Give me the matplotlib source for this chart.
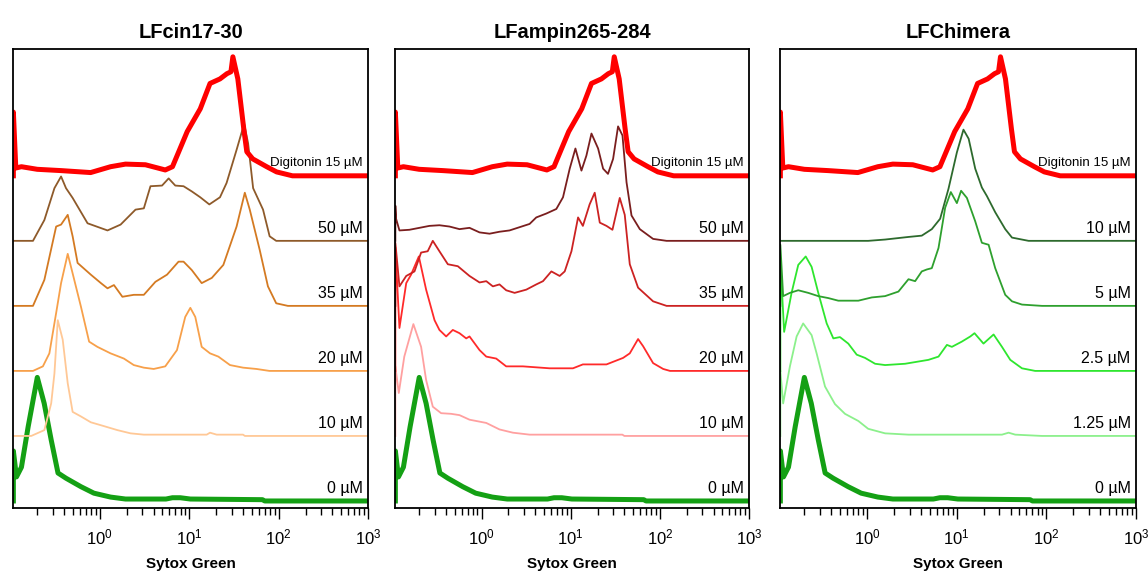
import numpy as np
import matplotlib
matplotlib.use('Agg')
import matplotlib.pyplot as plt
from matplotlib.ticker import LogLocator, NullFormatter

plt.rcParams['font.family'] = ['Liberation Sans', 'DejaVu Sans']

# x values are Sytox Green intensity, h values are histogram heights (1 unit = one row of the stack)

# controls, the same in every panel
dig_x = [0.108, 0.108, 0.115, 0.133, 0.2, 0.37, 0.79, 1.32, 1.94, 3.24, 5.4, 6.5, 9.5, 13.3, 17.1, 22.1,
         26.4, 29.3, 30.8, 35, 40.8, 44.1, 51.4, 73.6, 95, 143, 1000]
dig_h = [0, 0.98, 0.12, 0.14, 0.1, 0.08, 0.05, 0.14, 0.18, 0.17, 0.09, 0.14, 0.68, 1.03, 1.42, 1.49,
         1.57, 1.6, 1.83, 1.49, 0.72, 0.37, 0.26, 0.14, 0.06, 0, 0]

zero_x = [0.108, 0.108, 0.117, 0.133, 0.158, 0.2, 0.239, 0.286, 0.341, 0.419, 0.615, 0.86, 1.32, 1.94,
          5.5, 6.5, 7.94, 10.3, 66, 70, 1000]
zero_h = [0, 0.77, 0.37, 0.52, 1.14, 1.9, 1.5, 0.94, 0.43, 0.35, 0.22, 0.12, 0.06, 0.03,
          0.03, 0.05, 0.05, 0.03, 0.02, 0, 0]

# LFcin17-30
cin10_x = [0.108, 0.171, 0.24, 0.286, 0.311, 0.339, 0.385, 0.438, 0.497, 0.615, 0.794, 1.12, 1.57, 2.21,
           3.11, 15.7, 17.1, 20.3, 40, 42, 1000]
cin10_h = [0, 0, 0.09, 0.5, 0.96, 1.78, 1.48, 0.81, 0.37, 0.3, 0.21, 0.15, 0.09, 0.04,
           0.02, 0.02, 0.05, 0.02, 0.02, 0, 0]

cin20_x = [0.108, 0.179, 0.231, 0.273, 0.325, 0.369, 0.438, 0.497, 0.615, 0.76, 0.94, 1.32, 1.86, 2.4,
           3.11, 4.01, 5.4, 7.3, 9.03, 10.3, 11.7, 13.8, 17.1, 21.2, 28.6, 40.1, 56.5, 79, 1000]
cin20_h = [0, 0, 0.07, 0.27, 0.89, 1.35, 1.8, 1.5, 0.99, 0.45, 0.37, 0.27, 0.19, 0.09,
           0.05, 0.03, 0.07, 0.32, 0.83, 0.97, 0.83, 0.37, 0.27, 0.22, 0.09, 0.05, 0.03, 0, 0]

cin35_x = [0.108, 0.179, 0.24, 0.325, 0.369, 0.438, 0.497, 0.565, 0.794, 1.03, 1.22, 1.44, 1.79, 2.4,
           3.11, 4.19, 5.65, 7.6, 8.65, 10.7, 13.8, 17.9, 24.1, 33.9, 41.9, 47.6, 61.5, 76, 94, 127, 1000]
cin35_h = [0, 0, 0.4, 1.22, 1.25, 1.4, 1.07, 0.66, 0.48, 0.35, 0.27, 0.32, 0.14, 0.17,
           0.17, 0.37, 0.48, 0.68, 0.68, 0.55, 0.35, 0.43, 0.63, 1.22, 1.74, 1.48, 0.86, 0.3, 0.04, 0, 0]

cin50_x = [0.108, 0.179, 0.24, 0.311, 0.369, 0.419, 0.497, 0.73, 1.22, 1.71, 2.51, 3.11, 3.69, 4.97,
           5.89, 6.99, 8.65, 10.7, 13.3, 16.8, 22.1, 26.2, 33.9, 41.2, 45.6, 51.9, 67, 79.4, 94, 1000]
cin50_h = [0, 0, 0.32, 0.81, 0.99, 0.81, 0.66, 0.27, 0.16, 0.25, 0.48, 0.5, 0.84, 0.85,
           0.96, 0.85, 0.84, 0.76, 0.67, 0.56, 0.67, 0.89, 1.4, 1.8, 1.5, 0.81, 0.48, 0.07, 0, 0]

# LFampin265-284
amp10_x = [0.108, 0.108, 0.118, 0.136, 0.172, 0.21, 0.239, 0.284, 0.352, 0.457, 0.566, 0.733, 1.13, 1.59,
           2.25, 3.46, 16.3, 38, 40, 1000]
amp10_h = [0, 1.07, 0.66, 1.22, 1.72, 1.37, 0.86, 0.45, 0.35, 0.34, 0.32, 0.25, 0.2, 0.1,
           0.05, 0.02, 0.02, 0.02, 0, 0]

amp20_x = [0.108, 0.108, 0.12, 0.143, 0.162, 0.198, 0.239, 0.297, 0.337, 0.401, 0.476, 0.566, 0.673, 0.733,
           0.95, 1.13, 1.46, 1.89, 2.91, 5.81, 10.6, 13.7, 25.2, 38.7, 46, 57, 64.9, 84, 109, 130, 1000]
amp20_h = [0, 1.9, 0.66, 1.35, 1.48, 1.76, 1.25, 0.78, 0.63, 0.53, 0.63, 0.58, 0.5, 0.53,
           0.32, 0.22, 0.19, 0.07, 0.07, 0.04, 0.04, 0.1, 0.1, 0.2, 0.27, 0.49, 0.38, 0.12, 0.03, 0, 0]

amp35_x = [0.108, 0.108, 0.12, 0.143, 0.177, 0.21, 0.249, 0.284, 0.337, 0.419, 0.542, 0.733, 0.95, 1.13,
           1.34, 1.59, 1.89, 2.35, 3.18, 4.11, 4.89, 6.07, 7.52, 8.57, 10.2, 12.1, 13.7, 16.3, 18.6,
           21.2, 25.2, 29.4, 35.5, 40.4, 46, 57, 84, 119, 1000]
amp35_h = [0, 0.97, 0.3, 0.46, 0.53, 0.82, 0.84, 1.0, 0.84, 0.64, 0.61, 0.46, 0.36, 0.38,
           0.3, 0.33, 0.24, 0.2, 0.25, 0.33, 0.38, 0.53, 0.46, 0.53, 0.84, 1.36, 1.23, 1.56, 1.74,
           1.28, 1.23, 1.17, 1.66, 1.4, 0.64, 0.28, 0.07, 0, 0]

amp50_x = [0.108, 0.108, 0.11, 0.12, 0.155, 0.201, 0.26, 0.337, 0.437, 0.566, 0.733, 0.95, 1.23, 1.59,
           2.06, 2.67, 3.46, 4.11, 5.33, 6.9, 8.2, 9.75, 11.3, 13.2, 15, 17.1, 20.3, 23.1, 26.2,
           29.9, 34, 38.1, 42.3, 48.1, 59.6, 84, 119, 1000]
amp50_h = [0, 0.54, 0.34, 0.16, 0.17, 0.2, 0.23, 0.24, 0.22, 0.18, 0.2, 0.13, 0.11, 0.14,
           0.16, 0.21, 0.26, 0.36, 0.42, 0.49, 0.67, 1.11, 1.42, 1.08, 1.31, 1.65, 1.42, 1.11, 1.03,
           1.26, 1.76, 1.62, 0.9, 0.39, 0.18, 0.03, 0, 0]

# LFChimera
chi125_x = [0.108, 0.108, 0.116, 0.138, 0.164, 0.194, 0.241, 0.274, 0.34, 0.439, 0.568, 0.8, 1.03, 1.59,
            2.9, 32, 37.9, 45, 89.5, 1000]
chi125_h = [0, 1.0, 0.5, 1.07, 1.53, 1.73, 1.55, 1.27, 0.76, 0.49, 0.34, 0.23, 0.11, 0.04,
            0.02, 0.02, 0.05, 0.02, 0, 0]

chi25_x = [0.108, 0.108, 0.119, 0.144, 0.171, 0.207, 0.241, 0.286, 0.355, 0.421, 0.499, 0.618, 0.767, 0.95,
           1.23, 1.59, 2.66, 4.84, 6.27, 7.78, 8.84, 11.4, 14.2, 15.8, 19.9, 25.8, 32, 39.6, 53.5, 75, 1000]
chi25_h = [0, 1.7, 0.6, 1.2, 1.63, 1.76, 1.6, 1.2, 0.73, 0.5, 0.52, 0.42, 0.25, 0.2,
           0.11, 0.09, 0.11, 0.17, 0.22, 0.4, 0.37, 0.45, 0.53, 0.58, 0.42, 0.56, 0.37, 0.17, 0.04, 0, 0]

chi5_x = [0.108, 0.108, 0.116, 0.138, 0.171, 0.221, 0.286, 0.37, 0.478, 0.8, 1.13, 1.59, 2.24, 2.9,
          3.44, 4.08, 4.65, 5.28, 6.27, 7.44, 8.6, 10.05, 11.2, 13, 16.1, 19.1, 22.7, 26.9, 34.8,
          41.4, 53.5, 89.5, 1000]
chi5_h = [0, 0.94, 0.15, 0.2, 0.24, 0.2, 0.15, 0.12, 0.08, 0.08, 0.13, 0.15, 0.22, 0.41,
          0.38, 0.53, 0.56, 0.58, 0.89, 1.51, 1.75, 1.58, 1.77, 1.66, 1.3, 0.97, 0.94, 0.58, 0.17,
          0.07, 0.02, 0, 0]

chi10_x = [0.108, 1.03, 1.59, 2.9, 4.08, 5.28, 6.54, 8.1, 10.05, 11.9, 13.6, 16.1, 19.1, 21.7, 26.9,
           34.8, 41.4, 63.4, 1000]
chi10_h = [0, 0, 0.02, 0.06, 0.08, 0.18, 0.34, 0.8, 1.36, 1.71, 1.57, 1.11, 0.82, 0.69, 0.44,
           0.18, 0.05, 0, 0]

titles = ['LFcin17-30', 'LFampin265-284', 'LFChimera']
labels = [['0 µM', '10 µM', '20 µM', '35 µM', '50 µM', 'Digitonin 15 µM'],
          ['0 µM', '10 µM', '20 µM', '35 µM', '50 µM', 'Digitonin 15 µM'],
          ['0 µM', '1.25 µM', '2.5 µM', '5 µM', '10 µM', 'Digitonin 15 µM']]

traces = [
    [(zero_x, zero_h), (cin10_x, cin10_h), (cin20_x, cin20_h), (cin35_x, cin35_h), (cin50_x, cin50_h), (dig_x, dig_h)],
    [(zero_x, zero_h), (amp10_x, amp10_h), (amp20_x, amp20_h), (amp35_x, amp35_h), (amp50_x, amp50_h), (dig_x, dig_h)],
    [(zero_x, zero_h), (chi125_x, chi125_h), (chi25_x, chi25_h), (chi5_x, chi5_h), (chi10_x, chi10_h), (dig_x, dig_h)],
]

colors = [['#14A014', '#FFC896', '#F7A04A', '#D47A22', '#8E5A2A', '#FF0000'],
          ['#14A014', '#FFA0A0', '#FF2A2A', '#CC2222', '#7A1E1E', '#FF0000'],
          ['#14A014', '#8CF08C', '#2EE62E', '#2EA02E', '#2D6A2D', '#FF0000']]
widths = [3.6, 1.3, 1.3, 1.3, 1.3, 3.6]

fig = plt.figure(figsize=(11.48, 5.75), dpi=100)
lefts = [13, 395, 780]
rights = [368, 749, 1136]

for p in range(3):
    ax = fig.add_axes([lefts[p] / 1148, 67 / 575, (rights[p] - lefts[p]) / 1148, 459 / 575])
    for i in range(6):
        x, h = traces[p][i]
        ax.plot(x, np.array(h) + i, color=colors[p][i], lw=widths[i], solid_joinstyle='round')
        if i == 5:
            ax.text(0.985, i + 0.1, labels[p][i], transform=ax.get_yaxis_transform(),
                    ha='right', va='bottom', fontsize=9.5)
        else:
            ax.text(0.985, i + 0.08, labels[p][i], transform=ax.get_yaxis_transform(),
                    ha='right', va='bottom', fontsize=11.5)
    ax.set_xscale('log')
    ax.set_xlim(0.107, 1000)
    ax.set_ylim(-0.108, 6.95)
    ax.set_yticks([])
    ax.xaxis.set_major_locator(LogLocator(base=10, numticks=10))
    ax.xaxis.set_minor_locator(LogLocator(base=10, subs=np.arange(2, 10), numticks=20))
    ax.xaxis.set_minor_formatter(NullFormatter())
    ax.tick_params(axis='x', which='major', length=8, width=1, labelsize=12, pad=6)
    ax.tick_params(axis='x', which='minor', length=5, width=1)
    for s in ax.spines.values():
        s.set_linewidth(1.3)
    ax.set_title(titles[p], fontsize=14.5, fontweight='bold', pad=8)
    ax.set_xlabel('Sytox Green', fontsize=11, fontweight='bold', labelpad=7)

plt.savefig('out.png', dpi=100)
plt.close()
